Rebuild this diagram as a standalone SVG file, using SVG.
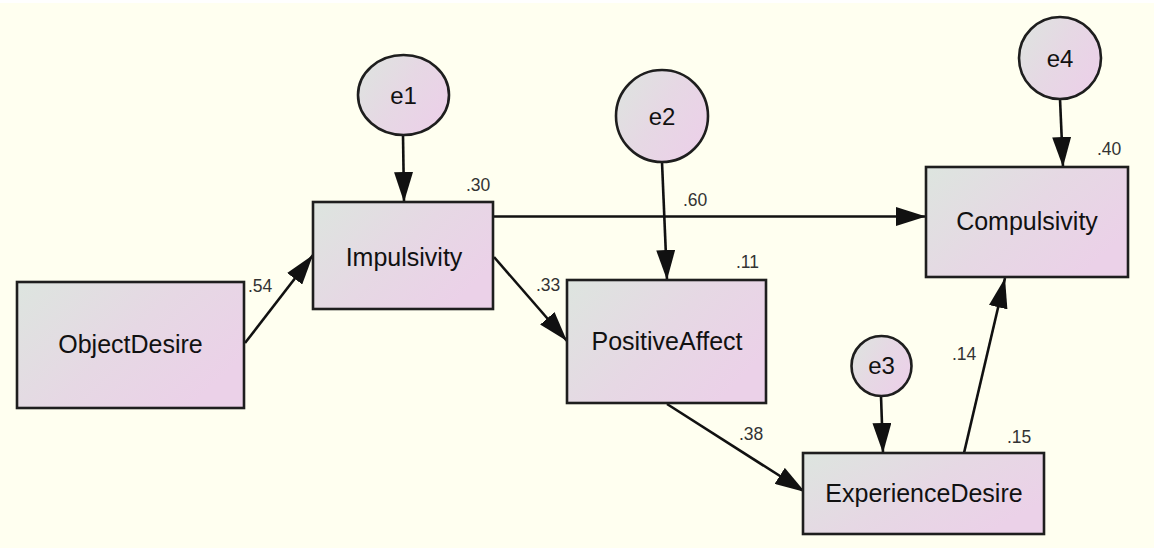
<svg xmlns="http://www.w3.org/2000/svg" width="1154" height="548" viewBox="0 0 1154 548">
<style>
.box{fill:url(#g);stroke:#1e1e1e;stroke-width:2.6}
.lbl{font-family:"Liberation Sans",Arial,sans-serif;font-size:25px;fill:#111;text-anchor:middle}
.elbl{font-family:"Liberation Sans",Arial,sans-serif;font-size:24px;fill:#111;text-anchor:middle}
.val{font-family:"Liberation Sans",Arial,sans-serif;font-size:17.5px;fill:#333}
.edge{stroke:#111;stroke-width:2.6;fill:none;marker-end:url(#ah)}
</style>
<defs>
<linearGradient id="g" x1="0" y1="0" x2="1" y2="0.6">
<stop offset="0" stop-color="#DDE5DF"/>
<stop offset="0.55" stop-color="#E6D8E4"/>
<stop offset="1" stop-color="#EBD1E8"/>
</linearGradient>
<marker id="ah" markerUnits="userSpaceOnUse" markerWidth="31" markerHeight="19" refX="30" refY="9.5" orient="auto">
<path d="M0,0 L30,9.5 L0,19 Z" fill="#111"/>
</marker>
</defs>
<rect x="0" y="0" width="1154" height="548" fill="#FFFFF0"/>
<rect x="0" y="0" width="1154" height="3" fill="#FFFFFF"/>

<g id="connectors">
<line class="edge" x1="245" y1="343" x2="313" y2="255"/>
<line class="edge" x1="403" y1="135" x2="404" y2="202"/>
<line class="edge" x1="494" y1="216.5" x2="926" y2="216.5"/>
<line class="edge" x1="494" y1="257" x2="567" y2="341"/>
<line class="edge" x1="662" y1="162" x2="667" y2="280"/>
<line class="edge" x1="667" y1="404" x2="805" y2="492"/>
<line class="edge" x1="881" y1="396" x2="883" y2="453"/>
<line class="edge" x1="1060" y1="99" x2="1063" y2="167"/>
<line class="edge" x1="964" y1="453" x2="1005" y2="278"/>
</g>

<g id="labels">
<text class="val" x="248" y="292">.54</text>
<text class="val" x="466" y="191">.30</text>
<text class="val" x="683" y="206">.60</text>
<text class="val" x="536" y="291">.33</text>
<text class="val" x="736" y="268">.11</text>
<text class="val" x="739" y="440">.38</text>
<text class="val" x="952" y="360">.14</text>
<text class="val" x="1007" y="443">.15</text>
<text class="val" x="1097" y="155">.40</text>
</g>

<g id="ObjectDesire">
<rect class="box" x="17" y="282" width="227" height="126"/>
<text class="lbl" x="130.5" y="353">ObjectDesire</text>
</g>
<g id="Impulsivity">
<rect class="box" x="313" y="202" width="180" height="107"/>
<text class="lbl" x="404" y="266">Impulsivity</text>
</g>
<g id="PositiveAffect">
<rect class="box" x="567" y="280" width="199" height="123"/>
<text class="lbl" x="667" y="350">PositiveAffect</text>
</g>
<g id="ExperienceDesire">
<rect class="box" x="803" y="453" width="241" height="81"/>
<text class="lbl" x="924" y="502">ExperienceDesire</text>
</g>
<g id="Compulsivity">
<rect class="box" x="926" y="167" width="202" height="110"/>
<text class="lbl" x="1027" y="230">Compulsivity</text>
</g>
<g id="e1">
<ellipse class="box" cx="403.5" cy="95" rx="45.5" ry="40"/>
<text class="elbl" x="403.5" y="104">e1</text>
</g>
<g id="e2">
<circle class="box" cx="662" cy="116" r="46"/>
<text class="elbl" x="662" y="125">e2</text>
</g>
<g id="e3">
<circle class="box" cx="881.5" cy="366" r="30"/>
<text class="elbl" x="881.5" y="374">e3</text>
</g>
<g id="e4">
<circle class="box" cx="1060" cy="58" r="41"/>
<text class="elbl" x="1060" y="67">e4</text>
</g>
</svg>
